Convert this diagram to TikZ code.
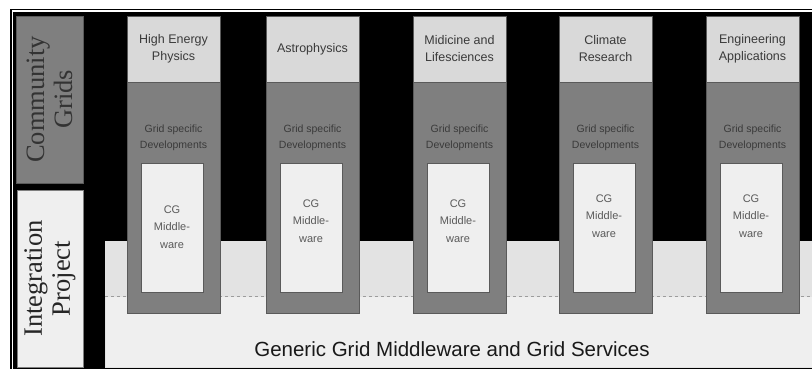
\documentclass[tikz,border=0pt]{standalone}
\usepackage{fontspec}
\setmainfont{Liberation Sans}
\newfontfamily\serifface{Liberation Serif}
\definecolor{midgray}{HTML}{7F7F7F}
\definecolor{lightbox}{HTML}{D9D9D9}
\definecolor{paler}{HTML}{EFEFEF}
\definecolor{bandgray}{HTML}{E3E3E3}
\definecolor{edgegray}{HTML}{5A5A5A}
\definecolor{txtdark}{HTML}{3A3A3A}
\definecolor{txtmid}{HTML}{5A5A5A}
\tikzset{
  every node/.style={inner sep=0pt, outer sep=0pt},
  topbox/.style={fill=lightbox, draw=edgegray, line width=0.5pt, anchor=north west,
     minimum width=93pt, minimum height=66pt, align=center, text=txtdark,
     font=\fontsize{12.5}{17}\selectfont},
  colbox/.style={fill=midgray, draw=edgegray, line width=0.5pt, anchor=north west,
     minimum width=93pt, minimum height=231pt},
  innerbox/.style={fill=paler, draw=edgegray, line width=0.5pt, anchor=north west,
     minimum width=62pt, minimum height=129pt},
  devtxt/.style={align=center, text=txtdark, font=\fontsize{10.5}{16}\selectfont},
  mwtxt/.style={align=center, text=txtmid, font=\fontsize{11}{17.5}\selectfont},
  sidetxt/.style={align=center, rotate=90, font=\serifface\fontsize{26.5}{28}\selectfont}
}
\begin{document}
\begin{tikzpicture}[x=1pt,y=-1pt]
\useasboundingbox (0,0) rectangle (812,369);
% outer frame line and black ground
\draw[line width=1.2pt] (11,369) -- (11,9.5) -- (812,9.5);
\fill[black] (13,12) rectangle (812,369);
% bottom layers
\node[fill=paler, draw=bandgray, line width=0.6pt, anchor=north west,
      minimum width=707pt, minimum height=71pt] (base) at (105,296) {};
\node[fill=bandgray, anchor=north west, minimum width=707pt, minimum height=55pt] (band) at (105,241) {};
\draw[edgegray!60, dashed, line width=0.4pt] (band.south west) -- (band.south east);
\node[font=\fontsize{20.5}{22}\selectfont, text=black!90] (gen) at (452,349) {Generic Grid Middleware and Grid Services};
% side labels
\node[fill=midgray, draw=edgegray, line width=0.8pt, anchor=north west,
      minimum width=67pt, minimum height=167pt] (cg) at (16,16) {};
\node[sidetxt, text=black!80] (cgt) at (cg.center) {Community\\Grids};
\node[fill=paler, draw=midgray, line width=0.8pt, anchor=north west,
      minimum width=66pt, minimum height=177pt] (ip) at (17,190) {};
\node[sidetxt, text=black!85] (ipt) at (ip.center) {Integration\\Project};
% columns
\foreach \X/\i/\T/\cy in {127/1/{High Energy\\Physics}/227,
                          266/2/{Astrophysics}/221,
                          413/3/{Midicine and\\Lifesciences}/221,
                          559/4/{Climate\\Research}/216,
                          706/5/{Engineering\\Applications}/216}{
  \node[colbox] (c\i) at (\X,82) {};
  \node[topbox] (t\i) at (\X,16) {\T};
  \node[devtxt] (d\i) at (\X+46.5,138) {Grid specific\\Developments};
  \node[innerbox] (w\i) at (\X+14,163) {};
  \node[mwtxt] (m\i) at (\X+45,\cy) {CG\\Middle-\\ware};
}
\end{tikzpicture}
\end{document}
